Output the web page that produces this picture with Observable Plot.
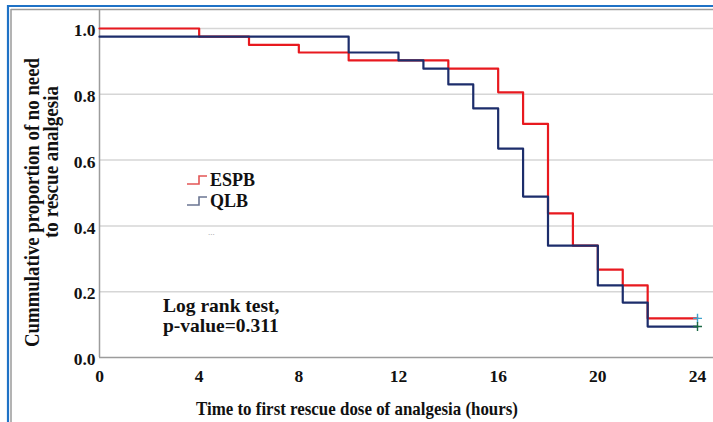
<!DOCTYPE html>
<html>
<head>
<meta charset="utf-8">
<script src="https://cdn.jsdelivr.net/npm/d3@7"></script>
<script src="https://cdn.jsdelivr.net/npm/@observablehq/plot@0.6"></script>
<style>
  body { margin: 0; background: #fff; }
  #wrap { position: relative; width: 713px; height: 422px; overflow: hidden; background: #fff; }
  #chart, #overlay { position: absolute; left: 0; top: 0; }
  #overlay { pointer-events: none; }
  .bt { font-family: "Liberation Serif", "Times New Roman", serif; font-weight: bold; fill: #111; }
</style>
</head>
<body>
<div id="wrap">
  <div id="chart"></div>
  <svg id="overlay" width="713" height="422" xmlns="http://www.w3.org/2000/svg"></svg>
</div>
<script>
// ---- data ----
const groups = ["ESPB", "QLB"];
const xTicks = [0, 4, 8, 12, 16, 20, 24];
const yTicks = [0, 0.2, 0.4, 0.6, 0.8, 1.0];

const espbTime = [0, 4, 6, 8, 10, 14, 16, 17, 18, 19, 20, 21, 22, 24];
const espbSurv = [1.0, 0.975, 0.95, 0.927, 0.903, 0.878, 0.806, 0.71, 0.438, 0.34, 0.267, 0.219, 0.119, 0.119];

const qlbTime = [0, 10, 12, 13, 14, 15, 16, 17, 18, 20, 21, 22, 24];
const qlbSurv = [0.975, 0.927, 0.903, 0.878, 0.83, 0.757, 0.635, 0.489, 0.34, 0.219, 0.167, 0.094, 0.094];

const censorTime = [24, 24];
const censorSurv = [0.119, 0.094];

const lineColors = ["#e8191f", "#1c2d6b"];
const censorColors = ["#3fa2cc", "#1d6a45"];
const legendIconColors = ["#e35656", "#6b7592"];

const axisTitleY = ["Cummulative proportion of no need", "to rescue analgesia"];
const axisTitleX = "Time to first rescue dose of analgesia (hours)";
const annotation = ["Log rank test,", "p-value=0.311"];

// ---- tables ----
const espbRows = espbTime.map((t, i) => ({ group: groups[0], t, s: espbSurv[i] }));
const qlbRows = qlbTime.map((t, i) => ({ group: groups[1], t, s: qlbSurv[i] }));
const censorRows = censorTime.map((t, i) => ({ group: groups[i], t, s: censorSurv[i] }));

const font = '"Liberation Serif", "Times New Roman", serif';

const chart = Plot.plot({
  width: 713,
  height: 422,
  marginLeft: 99,
  marginRight: 0,
  marginTop: 10,
  marginBottom: 65,
  style: { fontFamily: font, fontSize: "17.5px", fontWeight: "bold", color: "#111", background: "transparent" },
  x: { domain: [0, 24.642], label: null },
  y: { domain: [0, 1.0547], label: null },
  color: { domain: groups, range: lineColors },
  marks: [
    Plot.gridY(yTicks.slice(1), { stroke: "#d6d6d6", strokeOpacity: 1, strokeWidth: 1.5 }),
    Plot.ruleY([0], { stroke: "#9c9c9c", strokeWidth: 1.5 }),
    Plot.ruleX([0], { stroke: "#9c9c9c", strokeWidth: 1.5 }),
    Plot.axisX({ ticks: xTicks, tickSize: 0, tickPadding: 12, tickFormat: d => String(d), label: null, fill: "#111" }),
    Plot.axisY({ ticks: yTicks, tickSize: 0, tickPadding: 4, dy: 2, tickFormat: d3.format(".1f"), label: null, fill: "#111" }),
    Plot.line(espbRows, { x: "t", y: "s", stroke: "group", curve: "step-after", strokeWidth: 2.2 }),
    Plot.line(qlbRows, { x: "t", y: "s", stroke: "group", curve: "step-after", strokeWidth: 2.2 }),
    Plot.dot(censorRows, { x: "t", y: "s", symbol: "plus", r: 3, strokeWidth: 1.4,
      stroke: d => censorColors[groups.indexOf(d.group)] })
  ]
});
document.getElementById("chart").appendChild(chart);

// ---- overlay: frame, titles, legend, annotation ----
const ov = d3.select("#overlay");
ov.append("line").attr("x1", 7).attr("x2", 713).attr("y1", 6).attr("y2", 6).attr("stroke", "#1f72c6").attr("stroke-width", 2.2);
ov.append("line").attr("x1", 8).attr("x2", 8).attr("y1", 5).attr("y2", 422).attr("stroke", "#1f72c6").attr("stroke-width", 2.2);
ov.append("line").attr("x1", 11).attr("x2", 713).attr("y1", 9.5).attr("y2", 9.5).attr("stroke", "#9a9a9a").attr("stroke-width", 1.5);
ov.append("line").attr("x1", 11).attr("x2", 11).attr("y1", 9).attr("y2", 422).attr("stroke", "#9a9a9a").attr("stroke-width", 1.5);

// y axis title (two rotated lines)
const yt = [
  { cx: 38.5, cy: 202.5, len: 289 },
  { cx: 58, cy: 162, len: 152 }
];
axisTitleY.forEach((txt, i) => {
  ov.append("text").attr("class", "bt")
    .attr("transform", `translate(${yt[i].cx},${yt[i].cy}) rotate(-90)`)
    .attr("text-anchor", "middle")
    .attr("font-size", 21)
    .attr("textLength", yt[i].len).attr("lengthAdjust", "spacingAndGlyphs")
    .text(txt);
});

// x axis title
ov.append("text").attr("class", "bt")
  .attr("x", 196).attr("y", 415).attr("font-size", 19)
  .attr("textLength", 322).attr("lengthAdjust", "spacingAndGlyphs")
  .text(axisTitleX);

// legend
const legY = [184, 205];
groups.forEach((g, i) => {
  const y0 = legY[i];
  ov.append("path")
    .attr("d", `M187,${y0} H199 V${y0 - 8} H207`)
    .attr("fill", "none").attr("stroke", legendIconColors[i]).attr("stroke-width", 1.6);
  ov.append("text").attr("class", "bt")
    .attr("x", 210).attr("y", y0 + 2).attr("font-size", 18)
    .text(g);
});
ov.append("text").attr("x", 208).attr("y", 235).attr("font-size", 9).attr("fill", "#9a9a9a")
  .attr("font-family", font).text("...");

// annotation
[311.5, 332].forEach((yy, i) => {
  ov.append("text").attr("class", "bt")
    .attr("x", 163).attr("y", yy).attr("font-size", 19.5)
    .text(annotation[i]);
});
</script>
</body>
</html>
